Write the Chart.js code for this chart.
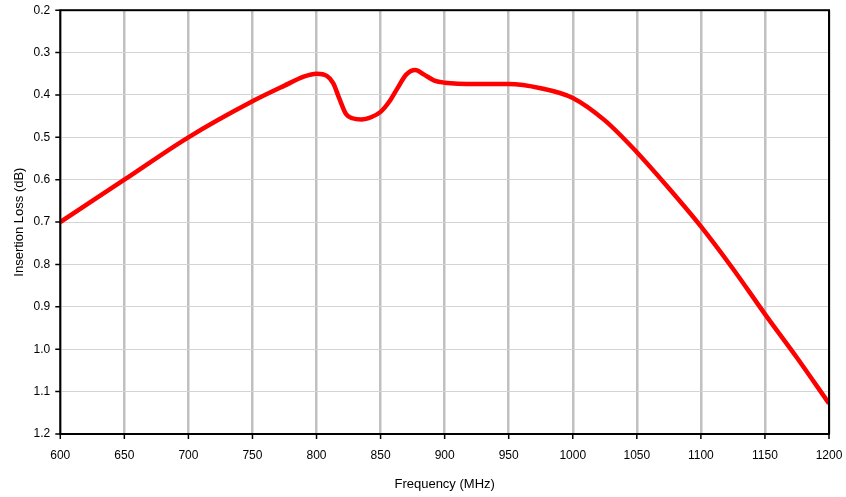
<!DOCTYPE html>
<html>
<head>
<meta charset="utf-8">
<script src="https://cdn.jsdelivr.net/npm/chart.js@4/dist/chart.umd.min.js"></script>
<style>
  html, body { margin: 0; padding: 0; background: #fff; }
  #chartBox { width: 846px; height: 497px; }
</style>
</head>
<body>
<div id="chartBox"><canvas id="lossChart" width="846" height="497"></canvas></div>
<script>
// 주파수 (MHz) / 삽입 손실 (dB)
const freq = [600, 650, 700, 750, 775, 790, 800, 808, 813, 818, 823, 828, 835, 843, 850, 857, 863, 870, 877, 884, 892, 900, 925, 950, 975, 1000, 1025, 1050, 1075, 1100, 1125, 1150, 1175, 1200];
const loss = [0.70, 0.60, 0.50, 0.415, 0.378, 0.357, 0.350, 0.355, 0.372, 0.41, 0.445, 0.455, 0.458, 0.452, 0.44, 0.415, 0.385, 0.352, 0.341, 0.352, 0.366, 0.371, 0.374, 0.374, 0.384, 0.407, 0.46, 0.535, 0.62, 0.71, 0.81, 0.917, 1.02, 1.128];

const xTicks = [600, 650, 700, 750, 800, 850, 900, 950, 1000, 1050, 1100, 1150, 1200];
const yTicks = [0.2, 0.3, 0.4, 0.5, 0.6, 0.7, 0.8, 0.9, 1.0, 1.1, 1.2];

const xTitle = "Frequency (MHz)";
const yTitle = "Insertion Loss (dB)";

const points = freq.map((f, i) => ({ x: f, y: loss[i] }));

// 플롯 영역 테두리 + 바깥쪽 짧은 눈금
const frameBorder = {
  id: "frameBorder",
  afterDatasetsDraw(chart) {
    const { ctx, chartArea: a, scales } = chart;
    ctx.save();
    ctx.strokeStyle = "#000";
    ctx.lineWidth = 1.5;
    ctx.beginPath();
    xTicks.forEach((v) => {
      const px = scales.x.getPixelForValue(v);
      ctx.moveTo(px, a.bottom);
      ctx.lineTo(px, a.bottom + 5);
    });
    yTicks.forEach((v) => {
      const py = scales.y.getPixelForValue(v);
      ctx.moveTo(a.left, py);
      ctx.lineTo(a.left - 5, py);
    });
    ctx.stroke();
    ctx.lineWidth = 2;
    ctx.strokeRect(a.left, a.top, a.right - a.left, a.bottom - a.top);
    ctx.restore();
  },
};

const fontFamily = "'Liberation Sans', Arial, sans-serif";

const ctx = document.getElementById("lossChart").getContext("2d");
new Chart(ctx, {
  type: "line",
  data: {
    datasets: [
      {
        data: points,
        borderColor: "#ff0000",
        borderWidth: 4.5,
        pointRadius: 0,
        fill: false,
        cubicInterpolationMode: "monotone",
      },
    ],
  },
  options: {
    responsive: false,
    animation: false,
    layout: { padding: { top: 3, right: 17, left: 12, bottom: 5 } },
    plugins: {
      legend: { display: false },
      tooltip: { enabled: false },
    },
    scales: {
      x: {
        type: "linear",
        min: 600,
        max: 1200,
        afterBuildTicks(axis) {
          axis.ticks = xTicks.map((v) => ({ value: v }));
        },
        grid: {
          color: "#c0c0c0",
          lineWidth: 2.5,
          tickColor: "rgba(0,0,0,0)",
          tickLength: 11,
        },
        border: { display: false },
        ticks: {
          color: "#000",
          font: { family: fontFamily, size: 12 },
          maxRotation: 0,
          padding: 3,
          callback: (v) => v,
        },
        title: {
          display: true,
          text: xTitle,
          color: "#000",
          font: { family: fontFamily, size: 13 },
          padding: { top: 11, bottom: 0 },
        },
      },
      y: {
        reverse: true,
        min: 0.2,
        max: 1.2,
        afterBuildTicks(axis) {
          axis.ticks = yTicks.map((v) => ({ value: v }));
        },
        grid: {
          color: "#d4d4d4",
          lineWidth: 1,
          tickColor: "rgba(0,0,0,0)",
          tickLength: 7,
        },
        border: { display: false },
        ticks: {
          color: "#000",
          font: { family: fontFamily, size: 12 },
          padding: 3,
          callback: (v) => v.toFixed(1),
        },
        title: {
          display: true,
          text: yTitle,
          color: "#000",
          font: { family: fontFamily, size: 13 },
          padding: { top: 0, bottom: 3 },
        },
      },
    },
  },
  plugins: [frameBorder],
});
</script>
</body>
</html>
